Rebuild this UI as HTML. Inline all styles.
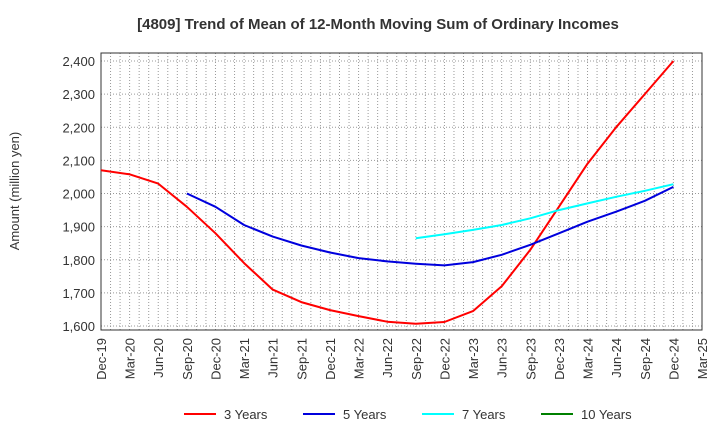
<!DOCTYPE html>
<html><head><meta charset="utf-8"><style>
body{margin:0;background:#fff;font-family:"Liberation Sans",Arial,sans-serif}
svg text{font-family:"Liberation Sans",Arial,sans-serif}
</style></head><body>
<svg id="chart" width="720" height="440">
<text x="378" y="29" text-anchor="middle" font-size="15" font-weight="bold" fill="#333">[4809]  Trend of Mean of 12-Month Moving Sum of Ordinary Incomes</text>
<text transform="translate(19,191) rotate(-90)" text-anchor="middle" font-size="13" fill="#333">Amount (million yen)</text>
<g id="grid"></g><g id="axes"></g><g id="series"></g><g id="legend"></g>
</svg>
<script>
const xLabels=["Dec-19","Mar-20","Jun-20","Sep-20","Dec-20","Mar-21","Jun-21","Sep-21","Dec-21","Mar-22","Jun-22","Sep-22","Dec-22","Mar-23","Jun-23","Sep-23","Dec-23","Mar-24","Jun-24","Sep-24","Dec-24","Mar-25"];
const yTicks=[1600,1700,1800,1900,2000,2100,2200,2300,2400];
const s3=[2070,2058,2030,1960,1880,1790,1710,1672,1648,1630,1613,1607,1612,1645,1720,1830,1960,2090,2200,2300,2400];
const s5=[null,null,null,2000,1960,1905,1870,1843,1822,1805,1795,1788,1783,1793,1815,1845,1880,1915,1945,1978,2020];
const s7=[null,null,null,null,null,null,null,null,null,null,null,1865,1877,1890,1905,1925,1950,1970,1990,2008,2028];
const s10=[];
const seriesNames=["3 Years","5 Years","7 Years","10 Years"];
const seriesColors=["#ff0000","#0000dd","#00ffff","#008000"];
const L=101,R=702,T=53,B=330;
const x=q=>L+q*3*(R-L)/63;
const y=v=>326-(v-1600)*(326-61)/800;
const NS="http://www.w3.org/2000/svg";
function mk(tag,attrs,parent){const e=document.createElementNS(NS,tag);for(const k in attrs)e.setAttribute(k,attrs[k]);parent.appendChild(e);return e;}
const grid=document.getElementById('grid'),axes=document.getElementById('axes');
for(let m=1;m<63;m++){const l=mk('line',{x1:L+m*(R-L)/63,x2:L+m*(R-L)/63,y1:T,y2:B,stroke:'#999','stroke-dasharray':'1,2'},grid);
}
yTicks.forEach(v=>{const l=mk('line',{x1:L,x2:R,y1:y(v),y2:y(v),stroke:'#999','stroke-dasharray':'1,2'},grid);

const t=mk('text',{x:L-6,y:y(v)+5,'text-anchor':'end','font-size':'13',fill:'#333'},axes);t.textContent=v.toLocaleString('en-US');
});
const fr=mk('rect',{x:L,y:T,width:R-L,height:B-T,fill:'none',stroke:'#333'},axes);

xLabels.forEach((s,i)=>{const t=mk('text',{transform:`translate(${x(i)+5},${B+8}) rotate(-90)`,'text-anchor':'end','font-size':'13',fill:'#333'},axes);t.textContent=s;
});
const ser=document.getElementById('series');
[s3,s5,s7,s10].forEach((d,k)=>{let p=[];d.forEach((v,i)=>{if(v!=null)p.push(x(i).toFixed(1)+','+y(v).toFixed(1));});
if(p.length){const pl=mk('polyline',{points:p.join(' '),fill:'none',stroke:seriesColors[k],'stroke-width':2,'stroke-linejoin':'round'},ser);
}});
const lg=document.getElementById('legend');const lx=[184,303,422,541];
seriesNames.forEach((n,k)=>{const g=mk('g',{},lg);
mk('line',{x1:lx[k],x2:lx[k]+32,y1:414,y2:414,stroke:seriesColors[k],'stroke-width':2},g);
const t=mk('text',{x:lx[k]+40,y:419,'font-size':'13',fill:'#333'},g);t.textContent=n;});
</script>
</body></html>
